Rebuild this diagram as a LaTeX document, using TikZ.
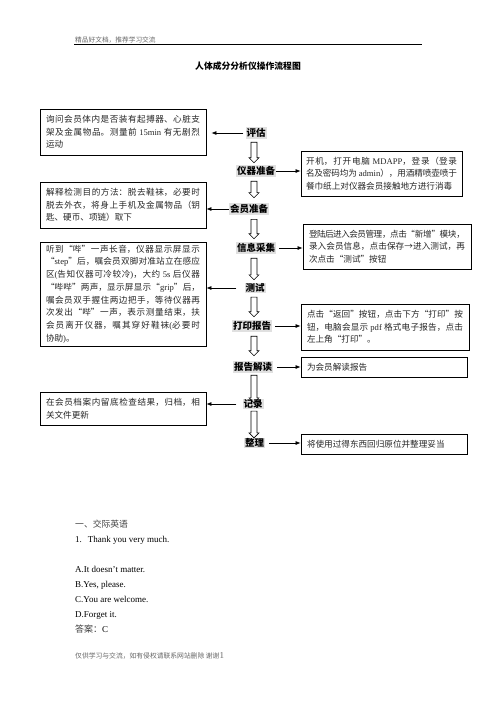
\documentclass[tikz,border=0pt]{standalone}
\usepackage{fontspec}
\setmainfont{Liberation Serif}
\newfontfamily\cjk{Noto Sans CJK SC}
\newfontfamily\enfont{Liberation Serif}
\XeTeXlinebreaklocale "zh"
\XeTeXlinebreakskip=0pt plus 1pt minus 0.6pt
\usetikzlibrary{arrows.meta,calc}

\tikzset{
  stage/.style={font=\cjk\bfseries\fontsize{9.5}{11}\selectfont, fill=black!12, inner sep=1pt},
  infobox/.style={draw, line width=0.8pt, font=\cjk\fontsize{8.6}{12.7}\selectfont, text=black!85,
    align=justify, inner xsep=6pt, inner ysep=3pt},
  link/.style={-{Latex[length=5pt,width=4pt]}, line width=0.7pt},
  plain/.style={anchor=base west, inner sep=0pt},
}

% hollow down arrow between two stages: top gap, bottom gap, from, to
\def\axis{254pt}
\newcommand\hollowarrow[4]{%
  \draw[line width=0.6pt] let \p1=($(#3.south)+(0,#1)$), \p2=($(#4.north)+(0,-#2)$) in
    (\axis-3pt,\y1) -- (\axis-3pt,\y2+5pt) -- (\axis-5pt,\y2+5pt) -- (\axis,\y2)
    -- (\axis+5pt,\y2+5pt) -- (\axis+3pt,\y2+5pt) -- (\axis+3pt,\y1) -- cycle;
}
\newcommand\en[1]{\mbox{\enfont #1}}

\begin{document}
\begin{tikzpicture}[x=1pt,y=-1pt]
    \fill[white] (0,0) rectangle (496,702);
    \useasboundingbox (0,0) rectangle (496,702);

    % page header and title
    \node[plain, font=\cjk\fontsize{6.7}{8}\selectfont, text=black!60] (header) at (75,42.5) {精品好文档，推荐学习交流};
    \draw[line width=0.8pt] (74,44.5) -- (422,44.5);
    \node[font=\cjk\bfseries\fontsize{8.8}{10}\selectfont] (title) at (248,66.5) {人体成分分析仪操作流程图};

    % stages
    \node[stage] (pg) at (256,133) {评估};
    \node[stage] (yq) at (256,171) {仪器准备};
    \node[stage] (hy) at (249,209) {会员准备};
    \node[stage] (xx) at (256,248) {信息采集};
    \node[stage] (cs) at (255,288) {测试};
    \node[stage] (dy) at (252,326) {打印报告};
    \node[stage] (bg) at (253,367) {报告解读};
    \node[stage] (jl) at (253,404) {记录};
    \node[stage] (zl) at (254.5,443) {整理};

    % left boxes
    \node[infobox, text width=154pt, minimum height=46pt] (pgbox) at (123,132) {询问会员体内是否装有起搏器、心脏支\linebreak
      架及金属物品。测量前 \en{15min} 有无剧烈\linebreak
      运动};
    \node[infobox, text width=154pt, minimum height=46pt] (hybox) at (123,205) {解释检测目的方法：脱去鞋袜，必要时\linebreak
      脱去外衣，将身上手机及金属物品（钥\linebreak
      匙、硬币、项链）取下};
    \node[infobox, text width=154pt, minimum height=102pt] (csbox) at (123,294) {听到“哔”一声长音，仪器显示屏显示\linebreak
      “\en{step}”后，嘱会员双脚对准站立在感应\linebreak
      区\en{(}告知仪器可冷较冷\en{)}，大约 \en{5s} 后仪器\linebreak
      “哔哔”两声，显示屏显示“\en{grip}”后，\linebreak
      嘱会员双手握住两边把手，等待仪器再\linebreak
      次发出“哔”一声，表示测量结束，扶\linebreak
      会员离开仪器，嘱其穿好鞋袜\en{(}必要时\linebreak
      协助\en{)}。};
    \node[infobox, text width=154pt, minimum height=33pt] (jlbox) at (123,408.5) {在会员档案内留底检查结果，归档，相\linebreak
      关文件更新};

    % right boxes
    \node[infobox, inner xsep=5pt, text width=151pt, minimum height=45pt] (yqbox) at (381.5,173.5) {开机，打开电脑 \en{MDAPP}，登录（登录\linebreak
      名及密码均为 \en{admin}），用酒精喷壶喷于\linebreak
      餐巾纸上对仪器会员接触地方进行消毒};
    \node[infobox, text width=156pt, minimum height=45pt] (xxbox) at (387,246.5) {登陆后进入会员管理，点击“新增”模块，\linebreak
      录入会员信息，点击保存→进入测试，再\linebreak
      次点击“测试”按钮};
    \node[infobox, text width=156pt, minimum height=46pt] (dybox) at (385,327) {点击“返回”按钮，点击下方“打印”按\linebreak
      钮，电脑会显示 \en{pdf} 格式电子报告，点击\linebreak
      左上角“打印”。};
    \node[infobox, text width=154pt, minimum height=20pt, align=left] (bgbox) at (384,367) {为会员解读报告};
    \node[infobox, text width=154pt, minimum height=20pt, align=left] (zlbox) at (384,444) {将使用过得东西回归原位并整理妥当};

    % side arrows
    \draw[link, shorten <=2pt, shorten >=5pt] (pg.west) -- (pg.west -| pgbox.east);
    \draw[link] (yq.east) -- (yq.east -| yqbox.west);
    \draw[link] (hy.west) -- (hy.west -| hybox.east);
    \draw[link, shorten <=3pt] (xx.east) -- (xx.east -| xxbox.west);
    \draw[link, shorten <=8pt] (cs.west) -- (cs.west -| csbox.east);
    \draw[link, shorten <=3pt] (dy.east) -- (dy.east -| dybox.west);
    \draw[link, shorten <=4pt] (bg.east) -- (bg.east -| bgbox.west);
    \draw[link, shorten <=6pt] (jl.west) -- (jl.west -| jlbox.east);
    \draw[link, shorten <=4pt] (zl.east) -- (zl.east -| zlbox.west);

    % flow arrows
    \hollowarrow{3.5}{2.5}{pg}{yq}
    \hollowarrow{4.5}{5.5}{yq}{hy}
    \hollowarrow{4.5}{3.5}{hy}{xx}
    \hollowarrow{4.5}{2.5}{xx}{cs}
    \hollowarrow{3.5}{3.5}{cs}{dy}
    \hollowarrow{4.5}{5.5}{dy}{bg}
    \hollowarrow{2.5}{-4.5}{bg}{jl}
    \hollowarrow{1.5}{-0.5}{jl}{zl}

    % text below the chart
    \node[plain, font=\cjk\fontsize{8.8}{10}\selectfont, text=black!75] (sec) at (75,527) {一、交际英语};
    \node[plain, font=\fontsize{9}{10}\selectfont] (q1) at (75,542) {1.\hspace{6pt}Thank you very much.};
    \node[plain, font=\fontsize{9}{10}\selectfont] (qa) at (75,572) {A.It doesn't matter.};
    \node[plain, font=\fontsize{9}{10}\selectfont] (qb) at (75,587) {B.Yes, please.};
    \node[plain, font=\fontsize{9}{10}\selectfont] (qc) at (75,602) {C.You are welcome.};
    \node[plain, font=\fontsize{9}{10}\selectfont] (qd) at (75,617) {D.Forget it.};
    \node[plain, font=\fontsize{9}{10}\selectfont] (ans) at (75,632) {{\cjk\color{black!75}答案：}C};
    \node[plain, font=\cjk\fontsize{6.8}{8}\selectfont, text=black!60] (footer) at (75,658) {仅供学习与交流，如有侵权请联系网站删除 谢谢{\enfont\fontsize{9}{10}\selectfont 1}};
\end{tikzpicture}
\end{document}
